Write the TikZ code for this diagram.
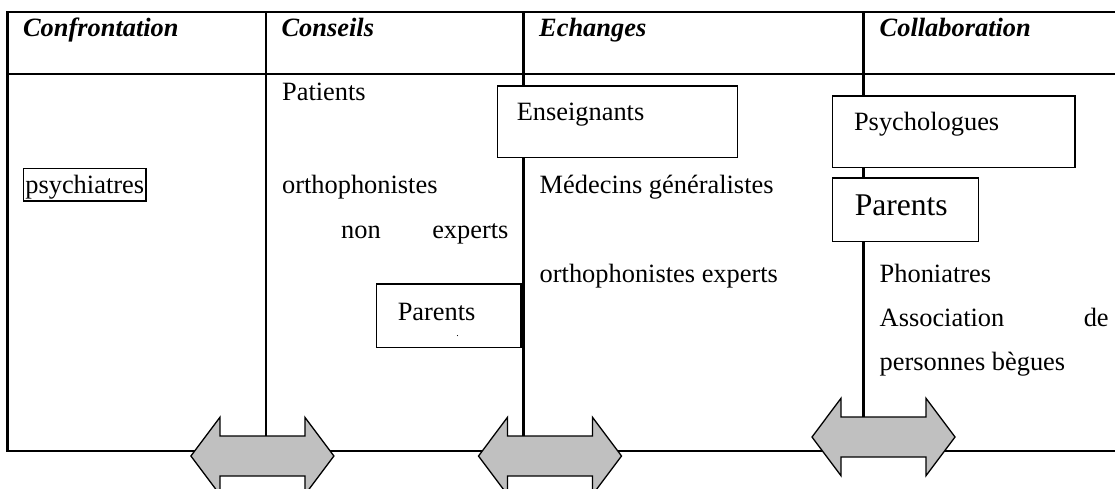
\documentclass[tikz,border=0pt]{standalone}
\usepackage{fontspec}
\setmainfont{Liberation Serif}
\usetikzlibrary{positioning}
\definecolor{arrowgray}{RGB}{192,192,192}

\begin{document}
\begin{tikzpicture}[x=0.5pt, y=-0.5pt,
    txt/.style={anchor=base west, inner sep=0pt, font=\fontsize{13.2}{15}\selectfont},
    colhead/.style={txt, font=\fontsize{13.2}{15}\selectfont\bfseries\itshape},
    tbl/.style={line width=1.2pt},
    box/.style={draw, fill=white, line width=0.75pt, anchor=north west, inner ysep=0pt, align=left, font=\fontsize{13.2}{15}\selectfont},
    bigarrow/.style={draw, fill=arrowgray, line width=0.65pt, line join=miter}]
    \useasboundingbox (0,0) rectangle (1115,488);

    % Table frame and column rules
    \draw[tbl] (1115,11.7) -- (7.5,11.7) -- (7.5,450.7) -- (1115,450.7);
    \draw[tbl] (7.5,74) -- (1115,74);
    \foreach \x in {265.7,523.3,863.3}
        \draw[tbl] (\x,11.7) -- (\x,450.7);

    % Column headers
    \node[colhead] (hConf) at (22.7,36) {Confrontation};
    \node[colhead] (hCons) at (281.2,36) {Conseils};
    \node[colhead] (hEch) at (538.8,36) {Echanges};
    \node[colhead] (hColl) at (879.3,36) {Collaboration};

    % Confrontation column
    \node[box, line width=0.85pt, inner xsep=0.9pt, text height=12.5pt, text depth=3.65pt] (psychiatres) at (22.7,167.7) {psychiatres};

    % Conseils column
    \node[txt] (patients) at (281.7,100) {Patients};
    \node[txt] (orthoNon) at (281.7,193) {orthophonistes};
    \node[txt] (nonExperts) at (340.7,238) {\makebox[83.7pt][s]{non experts}};
    \node[box, inner xsep=10.65pt, text width=51pt, text height=18pt, text depth=13.7pt] (parentsCons) at (375.7,283.3) {Parents};
    \node[txt, font=\tiny] (parentsDot) at (456,336) {.};

    % Echanges column
    \node[box, inner xsep=9.65pt, text width=100.7pt, text height=17.5pt, text depth=18.35pt] (enseignants) at (496.7,85) {Enseignants};
    \node[txt] (medecins) at (539.3,193) {Médecins généralistes};
    \node[txt] (orthoExp) at (539.3,282) {orthophonistes experts};

    % Collaboration column
    \node[box, inner xsep=10.8pt, text width=99.7pt, text height=17.5pt, text depth=18.35pt] (psychologues) at (831.7,95) {Psychologues};
    \node[box, inner xsep=11.15pt, text width=50.7pt, text height=18.8pt, text depth=12.85pt, font=\fontsize{15.8}{18}\selectfont,
          below=4.5pt of psychologues.south west, anchor=north west] (parentsColl) {Parents};
    \node[txt] (phoniatres) at (879.3,282) {Phoniatres};
    \node[txt] (association) at (879.3,326) {\makebox[114.5pt][s]{Association de}};
    \node[txt] (begues) at (879.3,370) {personnes bègues};

    % Double arrows between the columns
    \foreach \cx/\cy in {262.4/456, 550/456, 883.5/437}
        \draw[bigarrow] (\cx-71.5,\cy) -- (\cx-42.5,\cy-38.7) -- (\cx-42.5,\cy-20) -- (\cx+42.5,\cy-20)
            -- (\cx+42.5,\cy-38.7) -- (\cx+71.5,\cy) -- (\cx+42.5,\cy+38.7) -- (\cx+42.5,\cy+20)
            -- (\cx-42.5,\cy+20) -- (\cx-42.5,\cy+38.7) -- cycle;
\end{tikzpicture}
\end{document}
